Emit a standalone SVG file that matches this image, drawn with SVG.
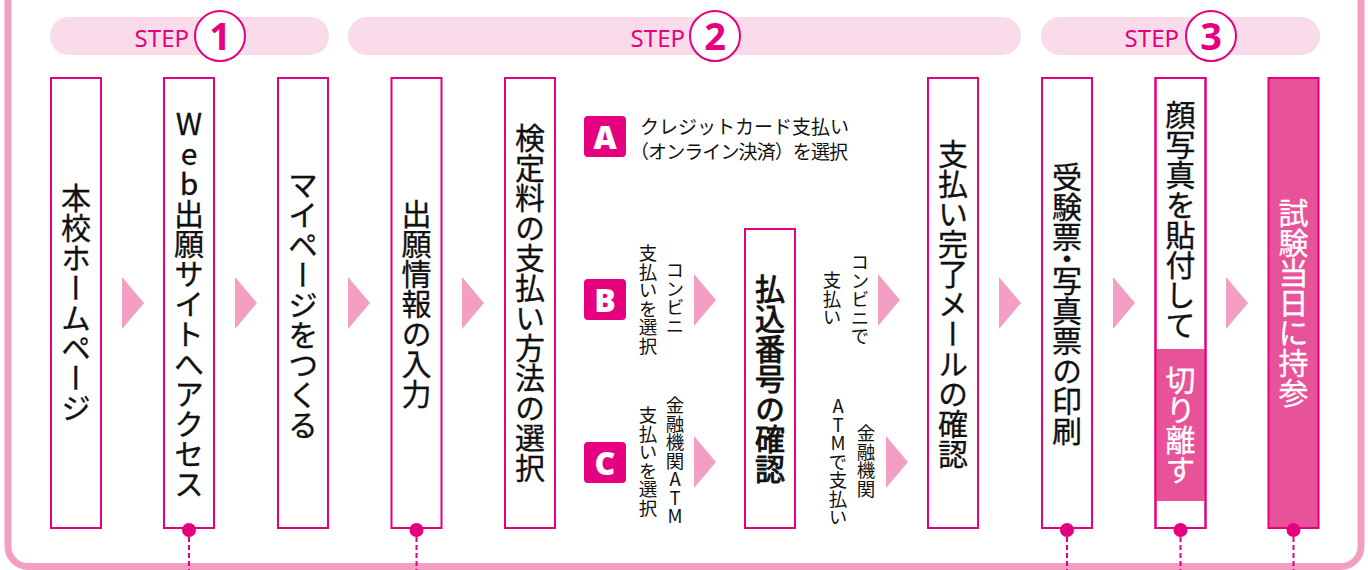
<svg xmlns="http://www.w3.org/2000/svg" xmlns:xlink="http://www.w3.org/1999/xlink" width="1368" height="570" viewBox="0 0 1368 570">
<defs>
<style>
.pill{fill:#f9dbe9}
.step{font-family:"Noto Sans","Open Sans",sans-serif;font-size:24px;fill:#e4007f;text-anchor:end}
.circ{fill:#fff;stroke:#e4007f;stroke-width:2}
.num{font-family:"Noto Sans","Open Sans",sans-serif;font-weight:700;font-size:38px;fill:#e4007f;text-anchor:middle}
.box{fill:#fff;stroke:#e4007f;stroke-width:2}
.boxp{fill:#e85298;stroke:#e4007f;stroke-width:2}
.v{writing-mode:vertical-rl;font-family:"Noto Sans CJK JP",sans-serif;font-size:30px;font-weight:400;fill:#111;stroke:#111;stroke-width:0.3}
.mid{text-anchor:middle}
.up{text-orientation:upright}
.w{fill:#fff;stroke:#fff}
.sv{writing-mode:vertical-rl;font-family:"Noto Sans CJK JP",sans-serif;font-size:18.5px;fill:#111}
.h{font-family:"Noto Sans CJK JP",sans-serif;font-size:19px;fill:#111}
.badge{fill:#e4007f}
.bl{font-family:"Open Sans","Noto Sans",sans-serif;font-weight:800;font-size:32px;fill:#fff;text-anchor:middle}
.arr{fill:#f29fc3}
.dot{fill:#e4007f}
.dash{stroke:#e4007f;stroke-width:2;stroke-dasharray:5 3;fill:none}
</style>
<polygon id="tri" points="0,-26 22,0 0,26"/>
</defs>
<rect x="8" y="-50" width="1353" height="616.5" rx="20" fill="none" stroke="#f29fc3" stroke-width="7"/>

<g id="step1">
<rect class="pill" x="50" y="17" width="279" height="38" rx="19"/>
<text class="step" x="189" y="47">STEP</text>
<circle class="circ" cx="220" cy="36" r="25"/>
<text class="num" x="220" y="50">1</text>
</g>
<g id="step2">
<rect class="pill" x="348" y="17" width="673" height="38" rx="19"/>
<text class="step" x="685" y="47">STEP</text>
<circle class="circ" cx="715" cy="36" r="25"/>
<text class="num" x="715" y="50">2</text>
</g>
<g id="step3">
<rect class="pill" x="1041" y="17" width="279" height="38" rx="19"/>
<text class="step" x="1179" y="47">STEP</text>
<circle class="circ" cx="1211" cy="36" r="25"/>
<text class="num" x="1211" y="50">3</text>
</g>

<g id="connectors">
<use class="arr" xlink:href="#tri" x="122" y="303"/>
<use class="arr" xlink:href="#tri" x="235" y="303"/>
<use class="arr" xlink:href="#tri" x="348" y="303"/>
<use class="arr" xlink:href="#tri" x="462" y="303"/>
<use class="arr" xlink:href="#tri" x="694" y="300"/>
<use class="arr" xlink:href="#tri" x="694" y="462"/>
<use class="arr" xlink:href="#tri" x="878" y="300"/>
<use class="arr" xlink:href="#tri" x="886" y="462"/>
<use class="arr" xlink:href="#tri" x="999" y="303"/>
<use class="arr" xlink:href="#tri" x="1113" y="303"/>
<use class="arr" xlink:href="#tri" x="1226" y="303"/>
<line class="dash" x1="189" y1="537" x2="189" y2="572"/>
<line class="dash" x1="416.5" y1="537" x2="416.5" y2="572"/>
<line class="dash" x1="1067" y1="537" x2="1067" y2="572"/>
<line class="dash" x1="1180.5" y1="537" x2="1180.5" y2="572"/>
<line class="dash" x1="1293.5" y1="537" x2="1293.5" y2="572"/>
</g>

<g id="n1">
<rect class="box" x="51" y="78" width="50" height="450"/>
<text class="v mid" x="76" y="303">本校ホームページ</text>
</g>
<g id="n2">
<rect class="box" x="164" y="78" width="50" height="450"/>
<text class="v mid up" x="189" y="304">Web出願サイトへアクセス</text>
<circle class="dot" cx="189" cy="530" r="7"/>
</g>
<g id="n3">
<rect class="box" x="278" y="78" width="50" height="450"/>
<text class="v mid" x="303" y="305">マイページをつくる</text>
</g>
<g id="n4">
<rect class="box" x="391.5" y="78" width="50" height="450"/>
<text class="v mid" x="416.5" y="304">出願情報の入力</text>
<circle class="dot" cx="416.5" cy="530" r="7"/>
</g>
<g id="n5">
<rect class="box" x="505" y="78" width="50" height="450"/>
<text class="v mid" x="530" y="303">検定料の支払い方法の選択</text>
</g>

<g id="optA">
<rect class="badge" x="584" y="116" width="42" height="41" rx="4"/>
<text class="bl" x="605" y="149">A</text>
<text class="h" x="640" y="134">クレジットカード支払い</text>
<text class="h" x="630" y="159" textLength="218">（オンライン決済）を選択</text>
</g>
<g id="optB">
<rect class="badge" x="584" y="279" width="42" height="41" rx="4"/>
<text class="bl" x="605" y="312">B</text>
<text class="sv" x="675" y="261">コンビニ</text>
<text class="sv" x="648" y="244">支払いを選択</text>
</g>
<g id="optC">
<rect class="badge" x="584" y="442" width="42" height="41" rx="4"/>
<text class="bl" x="605" y="475">C</text>
<text class="sv up" x="675" y="396">金融機関ATM</text>
<text class="sv" x="648" y="406">支払いを選択</text>
</g>

<g id="n6">
<rect class="box" x="745" y="229" width="50" height="299"/>
<text class="v mid" x="770" y="379" style="stroke-width:0.9">払込番号の確認</text>
</g>
<g id="payB">
<text class="sv" x="860" y="253">コンビニで</text>
<text class="sv" x="832" y="271">支払い</text>
</g>
<g id="payC">
<text class="sv" x="866" y="424">金融機関</text>
<text class="sv up" x="838" y="397">ATMで支払い</text>
</g>

<g id="n7">
<rect class="box" x="928" y="78" width="50" height="450"/>
<text class="v mid" x="953" y="304">支払い完了メールの確認</text>
</g>
<g id="n8">
<rect class="box" x="1042" y="78" width="50" height="450"/>
<text class="v" x="1067" y="162">受験票<tspan dy="-8">・</tspan><tspan dy="-8">写真票の印刷</tspan></text>
<circle class="dot" cx="1067" cy="530" r="7"/>
</g>
<g id="n9">
<rect class="box" x="1155.5" y="78" width="50" height="450"/>
<rect x="1155.5" y="349" width="50" height="152" fill="#e85298"/>
<rect x="1155.5" y="78" width="50" height="450" fill="none" stroke="#e4007f" stroke-width="2"/>
<text class="v" x="1180.5" y="100">顔写真を貼付して</text>
<text class="v mid w" x="1180.5" y="425">切り離す</text>
<circle class="dot" cx="1180.5" cy="530" r="7"/>
</g>
<g id="n10">
<rect class="boxp" x="1268.5" y="78" width="50" height="450"/>
<text class="v mid w" x="1293.5" y="303">試験当日に持参</text>
<circle class="dot" cx="1293.5" cy="530" r="7"/>
</g>
</svg>
